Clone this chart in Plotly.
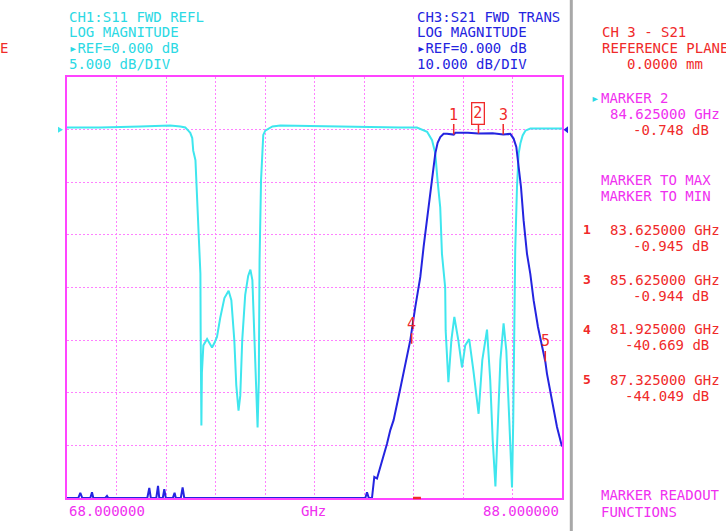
import plotly.graph_objects as go

# ---------------- data ----------------
f_start = 68.0
f_stop = 88.0

s11_freq = [68.00, 69.35, 70.96, 72.17, 72.58, 72.78, 72.90, 72.98, 73.06, 73.10,
            73.19, 73.23, 73.27, 73.31, 73.35, 73.39, 73.40, 73.41, 73.43, 73.45,
            73.51, 73.66, 73.75, 73.86, 73.95, 74.06, 74.19, 74.36, 74.53, 74.64,
            74.76, 74.84, 74.93, 75.00, 75.08, 75.20, 75.32, 75.41, 75.49, 75.57,
            75.65, 75.70, 75.75, 75.78, 75.84, 75.89, 75.93, 76.01, 76.14, 76.30,
            76.62, 78.64, 81.47, 82.14, 82.55, 82.75, 82.88, 82.97, 83.08, 83.15,
            83.28, 83.30, 83.41, 83.53, 83.65, 83.81, 83.96, 84.09, 84.25, 84.42,
            84.63, 84.78, 84.97, 85.10, 85.20, 85.31, 85.39, 85.51, 85.64, 85.75,
            85.87, 85.98, 86.03, 86.07, 86.11, 86.18, 86.25, 86.32, 86.41, 86.52,
            86.72, 88.00]
s11_db = [0.2, 0.2, 0.3, 0.4, 0.3, 0.2, -0.1, -0.3, -0.8, -2.0,
          -2.9, -4.8, -6.7, -9.1, -11.0, -13.7, -19.1, -27.0, -28.1, -23.1,
          -20.5, -19.9, -20.3, -20.7, -20.3, -19.7, -17.9, -16.0, -15.3, -16.2,
          -20.0, -24.3, -26.7, -25.3, -20.0, -15.7, -13.9, -13.3, -14.3, -19.1,
          -25.7, -28.3, -23.8, -12.4, -4.8, -2.0, -0.5, -0.1, 0.1, 0.3,
          0.4, 0.3, 0.2, 0.2, -0.2, -1.0, -2.25, -4.8, -7.4, -11.8,
          -15.0, -19.1, -24.0, -20.0, -17.8, -20.0, -22.6, -20.5, -19.9, -22.9,
          -27.0, -21.9, -19.0, -23.8, -29.5, -33.9, -29.5, -21.9, -18.4, -21.0,
          -27.6, -34.0, -27.6, -16.2, -11.5, -5.5, -2.25, -1.3, -0.55, -0.1,
          0.1, 0.1]

s21_freq = [68.000, 68.457, 68.537, 68.618, 68.941, 69.010, 69.063, 69.547, 69.616, 69.669,
            71.244, 71.325, 71.386, 71.608, 71.677, 71.729, 71.871, 71.931, 71.992, 72.275,
            72.347, 72.396, 72.598, 72.671, 72.739, 80.053, 80.121, 80.194, 80.323, 80.416,
            80.525, 80.630, 80.792, 80.929, 81.063, 81.196, 81.467, 81.669, 81.871, 82.073,
            82.275, 82.408, 82.545, 82.679, 82.788, 82.881, 82.974, 83.083, 83.216, 83.354,
            83.625, 83.689, 84.200, 84.625, 85.200, 85.625, 85.911, 86.044, 86.154, 86.246,
            86.343, 86.448, 86.586, 86.719, 86.853, 87.030, 87.192, 87.325, 87.394, 87.596,
            87.798, 87.960, 88.000]
s21_db = [-70.0, -70.0, -69.0, -70.0, -70.0, -68.9, -70.0, -70.0, -69.6, -70.0,
          -70.0, -68.1, -70.0, -70.0, -67.7, -70.0, -70.0, -68.3, -70.0, -70.0,
          -69.0, -70.0, -70.0, -68.0, -70.0, -70.0, -68.9, -70.0, -70.0, -66.0,
          -66.3, -64.7, -62.2, -59.7, -57.1, -55.2, -49.2, -44.5, -40.0, -33.7,
          -28.0, -22.3, -17.2, -12.8, -7.7, -4.5, -2.5, -1.4, -0.8, -0.8,
          -0.945, -0.6, -0.6, -0.748, -0.7, -0.944, -0.8, -1.7, -3.3, -7.1,
          -10.9, -17.2, -23.6, -27.4, -32.4, -37.5, -41.3, -44.049, -46.4, -51.4,
          -56.5, -59.5, -60.2]

marker_ids = ["1", "2", "3", "4", "5"]
marker_freq = [83.625, 84.625, 85.625, 81.925, 87.325]
marker_db = [-0.945, -0.748, -0.944, -40.669, -44.049]
active_marker = "2"

ch1_lines = ["CH1:S11 FWD REFL", "LOG MAGNITUDE", "▸REF=0.000 dB", "5.000 dB/DIV"]
ch3_lines = ["CH3:S21 FWD TRANS", "LOG MAGNITUDE", "▸REF=0.000 dB", "10.000 dB/DIV"]
s11_ref, s11_div = 0.0, 5.0
s21_ref, s21_div = 0.0, 10.0
bottom_labels = ["68.000000", "GHz", "88.000000"]

# ---------------- layout geometry ----------------
W_FIG, H_FIG = 726, 531
PL, PR, PT, PB = 67, 562, 77, 498
PW, PH = PR - PL, PB - PT

CYAN_T = "#2cd9e4"
CYAN = "#3fe6ee"
BLUE = "#2424e0"
RED = "#f02a2a"
MAG = "#f030f0"
FONT = "DejaVu Sans Mono"


def xp(px):
    return (px - PL) / PW


def yp(py):
    return (PB - py) / PH


fig = go.Figure()
fig.add_trace(go.Scatter(x=s11_freq, y=s11_db, mode="lines", yaxis="y",
                         line=dict(color=CYAN, width=2), hoverinfo="skip"))
fig.add_trace(go.Scatter(x=s21_freq, y=s21_db, mode="lines", yaxis="y2",
                         line=dict(color=BLUE, width=2), hoverinfo="skip"))

annotations = []


def txt(text, px, py, color, anchor="left", size=14, bold=False):
    t = f"<b>{text}</b>" if bold else text
    annotations.append(dict(text=t, x=xp(px), y=yp(py), xref="paper", yref="paper",
                            xanchor=anchor, yanchor="middle", showarrow=False,
                            font=dict(family=FONT, size=size, color=color)))


rows = [16.7, 32.3, 48.2, 64.0]
for i, t in enumerate(ch1_lines):
    txt(t, 66.5, rows[i], CYAN_T)
for i, t in enumerate(ch3_lines):
    txt(t, 414.5, rows[i], BLUE)

txt("E", -2, 48.2, RED)
txt("CH 3 - S21", 599.5, 32.3, RED)
txt("REFERENCE PLANE", 599.5, 48.2, RED)
txt("0.0000 mm", 625, 64.0, RED)

txt("▸", 589, 98, CYAN_T)
txt("MARKER " + active_marker, 599, 98, MAG)
ai = marker_ids.index(active_marker)
txt(f"{marker_freq[ai]:.6f} GHz", 608, 114, MAG)
txt(f"{marker_db[ai]:.3f} dB", 711, 130, RED, anchor="right")
txt("MARKER TO MAX", 599, 180, MAG)
txt("MARKER TO MIN", 599, 196.5, MAG)

row_y = {"1": 229.5, "3": 279.5, "4": 329.0, "5": 379.5}
for mid, f, d in zip(marker_ids, marker_freq, marker_db):
    if mid not in row_y:
        continue
    yy = row_y[mid]
    txt(mid, 580.5, yy, RED, size=13, bold=True)
    txt(f"{f:.6f} GHz", 608, yy, RED)
    txt(f"{d:.3f} dB", 711, yy + 16, RED, anchor="right")

txt("MARKER READOUT", 599, 495, MAG)
txt("FUNCTIONS", 599, 512, MAG)

txt(bottom_labels[0], 66.5, 511, MAG)
txt(bottom_labels[1], 313, 511, MAG, anchor="center")
txt(bottom_labels[2], 561, 511, MAG, anchor="right")

# marker flags on S21 trace
for mid, f, d in zip(marker_ids, marker_freq, marker_db):
    a = dict(text=mid, x=f, y=d, xref="x", yref="y2", showarrow=True,
             arrowhead=0, arrowwidth=1.5, arrowcolor=RED, ax=0, ay=-20,
             font=dict(family=FONT, size=15, color=RED), borderpad=0)
    if mid == active_marker:
        a.update(bordercolor=RED, borderwidth=1.3, borderpad=1)
    annotations.append(a)

shapes = [
    # separator
    dict(type="line", xref="paper", yref="paper", x0=xp(571.3), x1=xp(571.3),
         y0=yp(-5), y1=yp(540), line=dict(color="#a8a8a8", width=3)),
    # reference position triangles
    dict(type="path", xref="paper", yref="y", xsizemode="pixel", ysizemode="pixel",
         xanchor=0, yanchor=s11_ref, path="M -9,3 L -4,0 L -9,-3 Z",
         fillcolor=CYAN, line=dict(width=0)),
    dict(type="path", xref="paper", yref="y2", xsizemode="pixel", ysizemode="pixel",
         xanchor=1, yanchor=s21_ref, path="M 6,3.5 L 1.5,0 L 6,-3.5 Z",
         fillcolor=BLUE, line=dict(width=0)),
    # small red indicator on the frequency axis
    dict(type="line", xref="x", yref="paper", x0=81.98, x1=82.30, y0=0, y1=0,
         line=dict(color=RED, width=2.5)),
]

grid = dict(showgrid=True, gridcolor="#ff80ff", gridwidth=1.3, griddash="2px,2px",
            zeroline=False, showticklabels=False, ticks="",
            showline=True, mirror=True, linecolor="#ff44ff", linewidth=2,
            layer="below traces")

fig.update_layout(
    width=W_FIG, height=H_FIG,
    margin=dict(l=PL, r=W_FIG - PR, t=PT, b=H_FIG - PB),
    paper_bgcolor="white", plot_bgcolor="white",
    showlegend=False,
    xaxis=dict(range=[f_start, f_stop], tickvals=[70, 72, 74, 76, 78, 80, 82, 84, 86], **grid),
    yaxis=dict(range=[s11_ref - 7 * s11_div, s11_ref + s11_div],
               tickvals=[s11_ref - k * s11_div for k in range(0, 7)], **grid),
    yaxis2=dict(range=[s21_ref - 7 * s21_div, s21_ref + s21_div], overlaying="y",
                showgrid=False, zeroline=False, showticklabels=False, ticks="",
                showline=False),
    annotations=annotations,
    shapes=shapes,
)

fig.write_html("out.html", config={"displayModeBar": False},
               post_script="document.body.style.margin='0';document.body.style.overflow='hidden';")
